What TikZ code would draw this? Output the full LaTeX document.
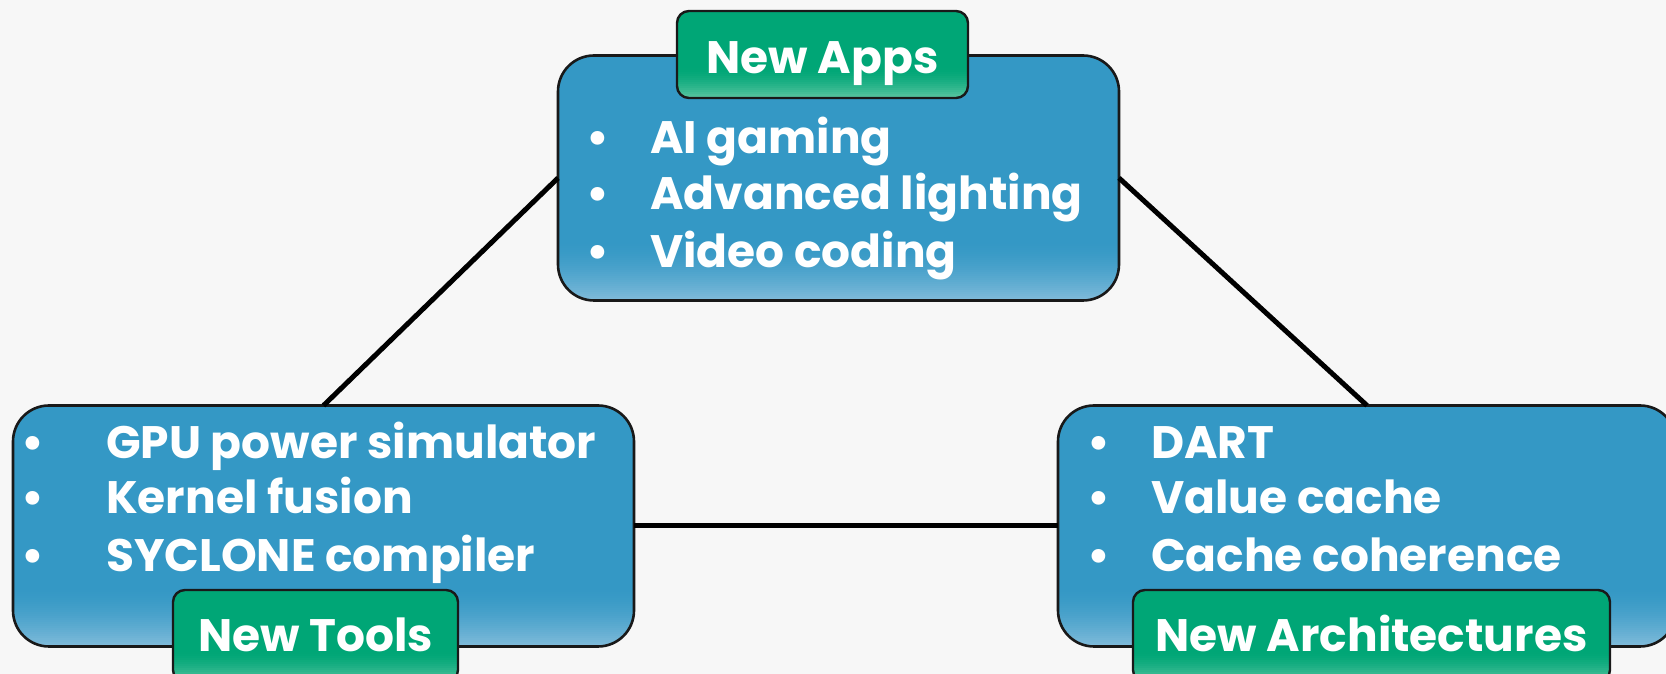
\documentclass[tikz,border=0pt]{standalone}
\usepackage{fontspec}
\setmainfont{Poppins}
\definecolor{pagebg}{HTML}{F7F7F7}
\definecolor{boxblue}{HTML}{3498C5}
\definecolor{boxlight}{HTML}{80BBDA}
\definecolor{taggreen}{HTML}{00A676}
\definecolor{taglight}{HTML}{5CC6A2}
% soft lighter band along the lower edge, built from thin strips
\newcommand{\lowerglow}[4]{% colour top, colour bottom, band height, steps
  \foreach \i in {0,...,#4}{%
    \pgfmathsetmacro\mixpct{100-100*((\i+0.5)/(#4+1))^1.6}%
    \pgfmathsetmacro\stripdy{#3/(#4+1)}%
    \fill[rounded corners=0pt, #1!\mixpct!#2]
      ([yshift={#3*1pt-\i*\stripdy*1pt}]path picture bounding box.south west) rectangle
      ([yshift={#3*1pt-(\i+1)*\stripdy*1pt-0.6pt}]path picture bounding box.south east);}}
\tikzset{
  panel/.style={draw=black!90, line width=2.6pt, fill=boxblue, rounded corners=36pt,
    inner sep=0pt, outer sep=0pt,
    path picture={\lowerglow{boxblue}{boxlight}{58}{28}}},
  tag/.style={draw=black!90, line width=2.4pt, fill=taggreen, rounded corners=12pt,
    inner sep=0pt, outer sep=0pt, text=white,
    path picture={\lowerglow{taggreen}{taglight}{30}{14}}},
  item/.style={anchor=base west, inner sep=0pt, text=white,
    font=\fontsize{45.5}{56}\selectfont\bfseries},
  dot/.style={anchor=base, inner sep=0pt, text=white,
    font=\fontsize{45.5}{56}\selectfont\bfseries},
  link/.style={draw=black, line width=5pt}
}
\begin{document}
\begin{tikzpicture}[x=1pt, y=1pt]
  \fill[pagebg] (0,0) rectangle (1666,674);
  \useasboundingbox (0,0) rectangle (1666,674);

  % the three topic panels
  \node[panel, minimum width=561pt, minimum height=245pt] (apps) at (838.5,496) {};
  \node[panel, minimum width=621pt, minimum height=241pt] (tools) at (323.5,148) {};
  \node[panel, minimum width=618pt, minimum height=241pt] (arch) at (1367,148) {};

  % connectors between the panels
  \draw[link] (apps.west) -- (tools.north);
  \draw[link] (apps.east) -- (arch.north);
  \draw[link] (tools.east) -- (arch.west);

  % New Apps
  \node[dot] (a1b) at (598,520) {•};
  \node[item] (a1) at (650,520) {AI gaming};
  \node[dot] (a2b) at (598,464) {•};
  \node[item] (a2) at (650,464) {Advanced lighting};
  \node[dot] (a3b) at (598,406) {•};
  \node[item] (a3) at (650,406) {Video coding};

  % New Tools
  \node[dot] (t1b) at (33,215) {•};
  \node[item] (t1) at (106,215) {GPU power simulator};
  \node[dot] (t2b) at (33,160) {•};
  \node[item] (t2) at (106,160) {Kernel fusion};
  \node[dot] (t3b) at (33,102) {•};
  \node[item] (t3) at (106,102) {SYCLONE compiler};

  % New Architectures
  \node[dot] (r1b) at (1099,215) {•};
  \node[item] (r1) at (1151,215) {DART};
  \node[dot] (r2b) at (1099,160) {•};
  \node[item] (r2) at (1151,160) {Value cache};
  \node[dot] (r3b) at (1099,102) {•};
  \node[item] (r3) at (1151,102) {Cache coherence};

  % title tags
  \node[tag, minimum width=291pt, minimum height=87pt] (appstag) at (822.5,619.5) {};
  \node[item, anchor=base] (appstitle) at (822.5,600) {New Apps};
  \node[tag, minimum width=285pt, minimum height=92pt] (toolstag) at (315.5,38) {};
  \node[item, anchor=base] (toolstitle) at (315.5,22) {New Tools};
  \node[tag, minimum width=477pt, minimum height=92pt] (archtag) at (1371.5,38) {};
  \node[item, anchor=base] (archtitle) at (1371.5,22) {New Architectures};
\end{tikzpicture}
\end{document}
